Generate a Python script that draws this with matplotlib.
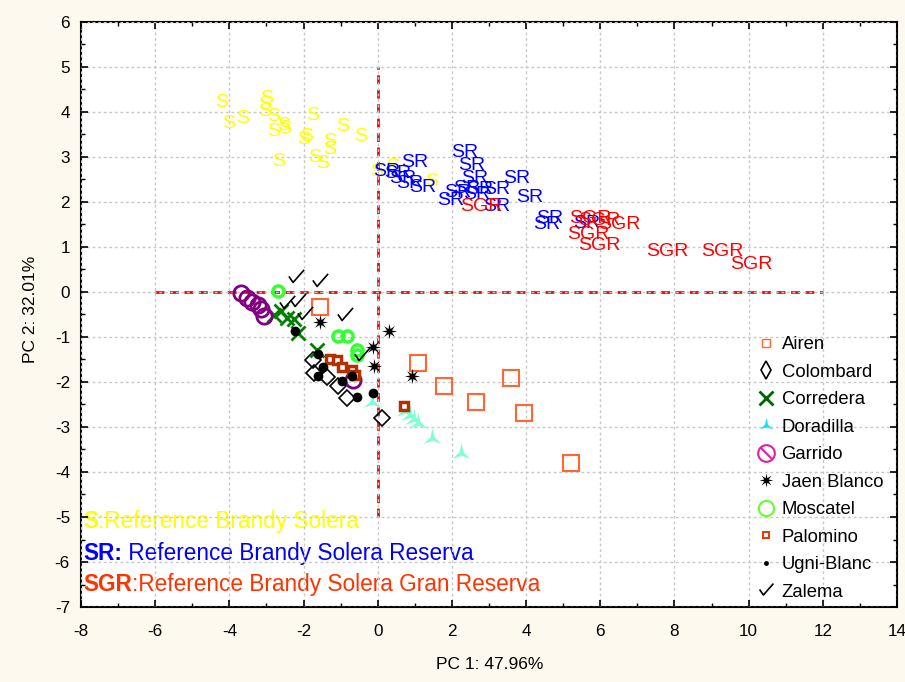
import matplotlib
matplotlib.use("Agg")
import matplotlib.pyplot as plt
from matplotlib.lines import Line2D
from matplotlib.path import Path
from matplotlib.ticker import MultipleLocator

plt.rcParams['font.family'] = ['Liberation Sans', 'DejaVu Sans']
plt.rcParams['axes.unicode_minus'] = False

# ---------------- reference brandies (drawn as text labels) ---------------- #
s_x = [-4.21, -4.01, -3.63, -3.00, -3.05, -3.05, -2.82, -2.82, -2.55, -2.51, -2.66, -2.01,
       -1.91, -1.76, -1.70, -1.49, -1.29, -1.31, -0.94, -0.46, -0.04, 0.41, 0.49, 1.45]
s_y = [4.21, 3.75, 3.86, 4.30, 4.16, 4.01, 3.90, 3.56, 3.71, 3.64, 2.90, 3.38,
       3.45, 3.93, 2.99, 2.86, 3.34, 3.16, 3.67, 3.45, 2.67, 2.78, 2.53, 2.45]

sr_x = [0.24, 0.54, 1.00, 0.67, 0.86, 1.21, 1.97, 2.16, 2.35, 2.53, 2.61, 2.40, 2.75,
        3.21, 2.67, 3.21, 3.75, 4.10, 4.64, 4.56, 5.63]
sr_y = [2.67, 2.64, 2.87, 2.53, 2.42, 2.33, 2.04, 2.20, 3.09, 2.82, 2.53, 2.29, 2.27,
        2.27, 2.16, 1.89, 2.53, 2.09, 1.64, 1.51, 1.53]

sgr_x = [2.80, 5.74, 5.98, 6.50, 5.69, 5.98, 7.82, 9.30, 10.08]
sgr_y = [1.89, 1.64, 1.58, 1.49, 1.27, 1.04, 0.91, 0.89, 0.60]

# ---------------- grape varieties ---------------- #
airen_x = [-1.56, 1.08, 1.78, 2.64, 3.58, 3.94, 5.20]
airen_y = [-0.33, -1.58, -2.09, -2.44, -1.91, -2.69, -3.80]

colombard_x = [-1.75, -1.73, -1.37, -1.08, -0.84, 0.11]
colombard_y = [-1.51, -1.80, -1.89, -2.09, -2.36, -2.80]

corredera_x = [-2.80, -2.61, -2.45, -2.26, -2.16, -1.64]
corredera_y = [-0.51, -0.42, -0.58, -0.60, -0.91, -1.29]

doradilla_x = [-0.16, 0.73, 0.86, 0.97, 1.08, 1.46, 2.24]
doradilla_y = [-2.44, -2.64, -2.73, -2.82, -2.91, -3.24, -3.58]

garrido_x = [-3.69, -3.53, -3.40, -3.23, -3.15, -3.07, -0.67]
garrido_y = [-0.02, -0.13, -0.22, -0.29, -0.38, -0.53, -1.96]

jaen_x = [-1.56, 0.30, -0.13, -0.11, 0.92]
jaen_y = [-0.67, -0.87, -1.22, -1.64, -1.87]

moscatel_x = [-2.70, -1.08, -0.84, -0.57, -0.57]
moscatel_y = [0.02, -0.98, -0.98, -1.29, -1.40]

palomino_x = [-1.29, -1.11, -0.97, -0.70, -0.62, 0.70]
palomino_y = [-1.49, -1.51, -1.67, -1.73, -1.84, -2.53]

ugni_x = [-2.24, -1.62, -1.48, -1.62, -0.97, -0.70, -0.57, -0.13]
ugni_y = [-0.87, -1.38, -1.67, -1.87, -1.98, -1.87, -2.33, -2.24]

zalema_x = [-2.21, -1.56, -2.45, -2.16, -1.97, -0.89, -0.43]
zalema_y = [0.33, 0.24, -0.24, -0.20, -0.49, -0.51, -1.40]

labels = ["Airen", "Colombard", "Corredera", "Doradilla", "Garrido", "Jaen Blanco",
          "Moscatel", "Palomino", "Ugni-Blanc", "Zalema"]

check = Path([(-1.0, 0.15), (-0.45, -0.65), (1.0, 1.0)],
             [Path.MOVETO, Path.LINETO, Path.LINETO])
no_sign = Path.make_compound_path(Path.unit_circle(),
                                  Path([(-0.72, 0.72), (0.72, -0.72)]))
tri_star = Path.unit_regular_star(3, 0.22)
star8 = Path.unit_regular_star(8, 0.35)

fig = plt.figure(figsize=(9.05, 6.82), dpi=100, facecolor='#FDF9EE')
ax = fig.add_axes([81/905, 1 - 607/682, 816/905, 585/682])
ax.set_facecolor('white')

# eixos de referência
ax.plot([-6, 12], [0, 0], color='red', lw=2, dashes=(3.2, 2.0), zorder=2.5)
ax.plot([0, 0], [-5, 5], color='red', lw=2, dashes=(3.2, 2.0), zorder=2.5)

# marcas de texto
for x, y in zip(s_x, s_y):
    ax.text(x, y, "S", color='#FFFF00', fontsize=14, ha='center', va='center', zorder=3)
for x, y in zip(sr_x, sr_y):
    ax.text(x, y, "SR", color='#0000FF', fontsize=14, ha='center', va='center', zorder=3)
for x, y in zip(sgr_x, sgr_y):
    ax.text(x, y, "SGR", color='#FF0000', fontsize=14, ha='center', va='center', zorder=3)

# variedades
kw = dict(ls='none', zorder=4)
ax.plot(airen_x, airen_y, marker='s', ms=11, mfc='none', mec='#FF6633', mew=1.5, **kw)
ax.plot(colombard_x, colombard_y, marker='D', ms=8, mfc='none', mec='black', mew=1.2, **kw)
ax.plot(corredera_x, corredera_y, marker='x', ms=10, mec='#008000', mew=2, **kw)
ax.plot(doradilla_x, doradilla_y, marker=tri_star, ms=15, color='#7FFFD4', mew=0, **kw)
ax.plot(garrido_x, garrido_y, marker='o', ms=11, mfc='none', mec='#800080', mew=2, **kw)
ax.plot(jaen_x, jaen_y, marker=star8, ms=11, color='black', mew=0, **kw)
ax.plot(moscatel_x, moscatel_y, marker='o', ms=8, mfc='none', mec='#33FF33', mew=2.5, **kw)
ax.plot(palomino_x, palomino_y, marker='s', ms=6, mfc='white', mec='#B33000', mew=2.5, **kw)
ax.plot(ugni_x, ugni_y, marker='o', ms=7, color='black', mew=0, **kw)
ax.plot(zalema_x, zalema_y, marker=check, ms=11, mfc='none', mec='black', mew=1.2, **kw)

ax.set_xlim(-8, 14)
ax.set_ylim(-7, 6)
ax.xaxis.set_major_locator(MultipleLocator(2))
ax.xaxis.set_minor_locator(MultipleLocator(1))
ax.yaxis.set_major_locator(MultipleLocator(1))
ax.yaxis.set_minor_locator(MultipleLocator(0.5))
ax.tick_params(which='both', direction='in', top=True, right=True, labelsize=12.3)
ax.tick_params(axis='x', pad=12)
ax.tick_params(axis='y', pad=8)
ax.tick_params(which='major', length=5, width=1.2)
ax.tick_params(which='minor', length=3, width=1)
ax.grid(True, which='major', color='#C8C8C8', ls=(0, (2, 2)), lw=1, zorder=2)
ax.set_axisbelow(False)
for sp in ax.spines.values():
    sp.set_linewidth(1.5)

ax.set_xlabel("PC 1: 47.96%", fontsize=12.5)
ax.set_ylabel("PC 2: 32.01%", fontsize=12.5)
ax.xaxis.set_label_coords(0.501, -0.0855)
ax.yaxis.set_label_coords(-0.053, 0.508)

# legenda
handles = [
    Line2D([], [], ls='none', marker='s', ms=6, mfc='none', mec='#FF6633', mew=1),
    Line2D([], [], ls='none', marker='d', ms=9, mfc='none', mec='black', mew=1.2),
    Line2D([], [], ls='none', marker='x', ms=10, mec='#006400', mew=2),
    Line2D([], [], ls='none', marker=tri_star, ms=11, color='#00E5FF', mew=0),
    Line2D([], [], ls='none', marker=no_sign, ms=12, mfc='none', mec='#E0209F', mew=1.5),
    Line2D([], [], ls='none', marker=star8, ms=10, color='black', mew=0),
    Line2D([], [], ls='none', marker='o', ms=11, mfc='none', mec='#66FF33', mew=1.5),
    Line2D([], [], ls='none', marker='s', ms=5, mfc='white', mec='#E04010', mew=1.5),
    Line2D([], [], ls='none', marker='o', ms=3.5, color='black', mew=0),
    Line2D([], [], ls='none', marker=check, ms=10, mfc='none', mec='black', mew=1.2),
]
ax.legend(handles, labels, loc='upper left', bbox_to_anchor=(0.828, 0.463),
          frameon=False, fontsize=13.3, handlelength=1.0, handletextpad=0.35,
          labelspacing=0.57, borderpad=0, borderaxespad=0)

# textos de referência
lines_txt = [("S", ":Reference Brandy Solera", '#FFFF00', 0.147),
             ("SR:", " Reference Brandy Solera Reserva", '#0000FF', 0.092),
             ("SGR", ":Reference Brandy Solera Gran Reserva", '#FF3300', 0.038)]
for bold, rest, col, yy in lines_txt:
    t = ax.text(0.003, yy, bold, transform=ax.transAxes, color=col, fontsize=16.3,
                fontweight='bold', ha='left', va='center', zorder=1.8)
    ax.annotate(rest, xy=(1, 0), xycoords=t, color=col, fontsize=16.3,
                ha='left', va='bottom', zorder=1.8)

fig.savefig("out.png", dpi=100, facecolor=fig.get_facecolor())
